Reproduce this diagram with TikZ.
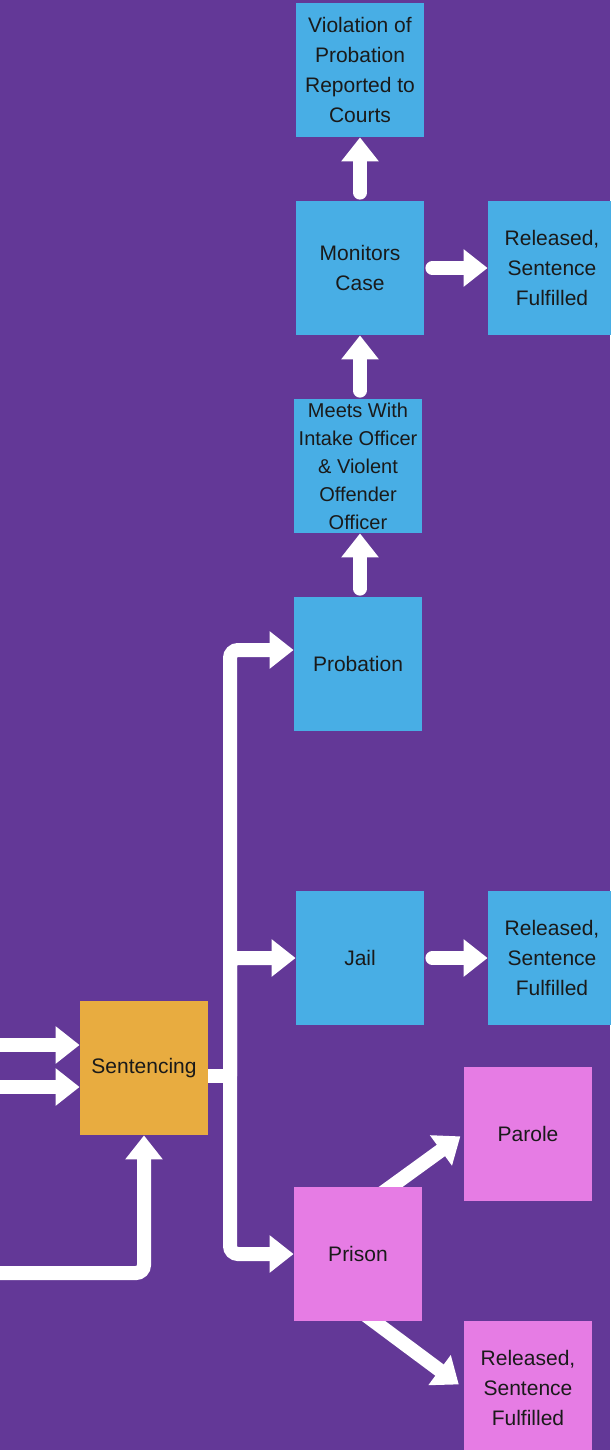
\documentclass[tikz,border=0pt]{standalone}
\usepackage{fontspec}
\setmainfont{Liberation Sans}
\usetikzlibrary{arrows.meta,positioning,calc}
\definecolor{bgpurple}{RGB}{99,56,151}
\definecolor{caseblue}{RGB}{72,174,229}
\definecolor{sentorange}{RGB}{232,172,64}
\definecolor{prisonpink}{RGB}{230,124,228}
\definecolor{labeldark}{RGB}{26,26,26}
\pgfdeclarelayer{bg}
\pgfsetlayers{bg,main}

\begin{document}
\begin{tikzpicture}[x=0.5pt,y=-0.5pt]
        %
        % `stage' is the common box, coloured by `community', `court' and `custody'.
        % `flow' is the white arrow between boxes.
        \tikzstyle{stage} = [minimum width=64pt,minimum height=67pt,inner sep=1pt,align=center,text=labeldark,font=\fontsize{10.5}{15}\selectfont]
        \tikzstyle{community} = [stage,fill=caseblue]
        \tikzstyle{court} = [stage,fill=sentorange]
        \tikzstyle{custody} = [stage,fill=prisonpink]
        \tikzstyle{flow} = [draw=white,line width=7pt,line cap=round,-{Triangle[width=18pt,length=12pt]}]
        \useasboundingbox (0,0) rectangle (610,1450);
        %
        % Probation column
        \node[community] (violation) at (360,70) {Violation of\\Probation\\Reported to\\Courts};
        \node[community] (monitors) at (360,268) {Monitors\\Case};
        \node[community] (released1) at (552,268) {Released,\\Sentence\\Fulfilled};
        \node[community,font=\fontsize{10}{14}\selectfont] (meets) at (358,466) {Meets With\\Intake Officer\\\& Violent\\Offender\\Officer};
        \node[community] (probation) at (358,664) {Probation};
        %
        % Jail row
        \node[community] (jail) at (360,958) {Jail};
        \node[community] (released2) at (552,958) {Released,\\Sentence\\Fulfilled};
        %
        % Sentencing and prison
        \node[court] (sentencing) at (144,1068) {Sentencing};
        \node[custody] (parole) at (528,1134) {Parole};
        \node[custody] (prison) at (358,1254) {Prison};
        \node[custody] (released3) at (528,1388) {Released,\\Sentence\\Fulfilled};
        %
        % Loose ends and fork
        \coordinate (inA) at (-10,1045);
        \coordinate (inB) at (-10,1087);
        \coordinate (inC) at (-10,1273);
        \coordinate (fork) at (230,1076);
        %
        \begin{pgfonlayer}{bg}
        \fill[bgpurple] (0,0) rectangle (610,1450);
        % Inputs
        \draw[flow] (inA) -- (inA -| sentencing.west);
        \draw[flow] (inB) -- (inB -| sentencing.west);
        \draw[flow,rounded corners=4pt] (inC) -| (sentencing.south);
        % Fork
        \draw[draw=white,line width=7pt] (sentencing.east |- fork) -- (fork);
        \draw[flow,rounded corners=4pt] (fork) |- ([yshift=7pt]probation.west);
        \draw[flow,rounded corners=4pt] (fork) |- (jail.west);
        \draw[flow,rounded corners=4pt] (fork) |- (prison.west);
        % Probation steps
        \draw[flow] ([yshift=4pt]probation.north -| monitors) -- (meets.south -| monitors);
        \draw[flow] ([yshift=4pt]meets.north -| monitors) -- (monitors.south);
        \draw[flow] ([yshift=4pt]monitors.north) -- (violation.south);
        \draw[flow] ([xshift=4pt]monitors.east) -- (released1.west);
        \draw[flow] ([xshift=4pt]jail.east) -- (released2.west);
        % Prison exits
        \draw[flow,shorten >=2pt] ([yshift=-12pt]prison.north) -- (parole.west);
        \draw[flow,shorten >=3pt] ([yshift=6pt]prison.south) -- (released3.west);
        \end{pgfonlayer}
        %
\end{tikzpicture}
\end{document}
